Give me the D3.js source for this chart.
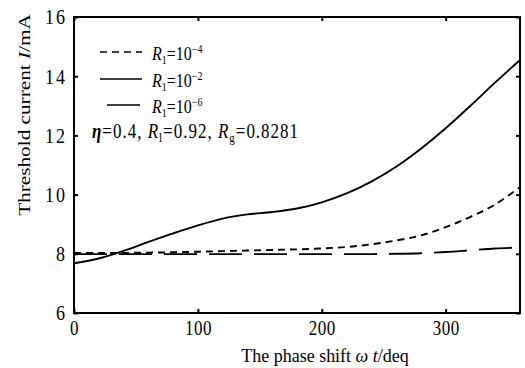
<!DOCTYPE html>
<html>
<head>
<meta charset="utf-8">
<script src="https://cdn.jsdelivr.net/npm/d3@7"></script>
<style>
  body { margin: 0; background: #fff; }
  text { font-family: "Liberation Serif", "Times New Roman", serif; fill: #000; }
</style>
</head>
<body>
<div id="chart"></div>
<script>
// phase shift (deg) and threshold current (mA)
const phase = [0, 20, 40, 60, 80, 100, 120, 140, 160, 180, 200, 220, 240, 260, 280, 300, 320, 340, 360];
const r1e2 = [7.68, 7.84, 8.10, 8.40, 8.69, 8.96, 9.19, 9.33, 9.41, 9.53, 9.74, 10.04, 10.44, 10.94, 11.55, 12.24, 13.00, 13.79, 14.55];
const r1e4 = [8.03, 8.03, 8.03, 8.04, 8.05, 8.07, 8.09, 8.11, 8.13, 8.15, 8.18, 8.23, 8.32, 8.45, 8.62, 8.90, 9.25, 9.67, 10.25];
const r1e6 = [7.99, 7.99, 7.99, 7.99, 7.99, 7.99, 7.99, 7.99, 7.99, 7.99, 7.99, 7.99, 7.99, 8.00, 8.02, 8.06, 8.12, 8.18, 8.21];
const xTicks = [0, 100, 200, 300];
const yTicks = [6, 8, 10, 12, 14, 16];
const legendExp = ["-4", "-2", "-6"];

const W = 525, H = 368;
const m = {left: 74, right: 520, top: 17, bottom: 313};
const sy = 1.2; // the scan is stretched vertically

const svg = d3.select("#chart").append("svg")
    .attr("width", W)
    .attr("height", H);

const x = d3.scaleLinear().domain([0, 360]).range([m.left, m.right]);
const y = d3.scaleLinear().domain([6, 16]).range([m.bottom, m.top]);

// axes with inward ticks
const gx = svg.append("g")
    .attr("transform", "translate(0," + m.bottom + ")")
    .call(d3.axisBottom(x).tickValues(xTicks).tickSizeInner(-4).tickSizeOuter(0).tickPadding(6));
const gy = svg.append("g")
    .attr("transform", "translate(" + m.left + ",0)")
    .call(d3.axisLeft(y).tickValues(yTicks).tickSizeInner(-4).tickSizeOuter(0).tickPadding(7));
svg.append("g")
    .attr("transform", "translate(0," + m.top + ")")
    .call(d3.axisTop(x).tickValues(xTicks).tickSizeInner(-4).tickSizeOuter(0).tickFormat(""));
svg.append("g")
    .attr("transform", "translate(" + m.right + ",0)")
    .call(d3.axisRight(y).tickValues(yTicks).tickSizeInner(-4).tickSizeOuter(0).tickFormat(""));

svg.selectAll(".domain").remove();
svg.selectAll(".tick line").attr("stroke", "#000").attr("stroke-width", 2);

gx.selectAll("text")
    .attr("font-size", 17)
    .attr("font-family", "Liberation Serif")
    .attr("letter-spacing", 0.5)
    .attr("transform", "scale(1," + sy + ")");
gy.selectAll("text")
    .attr("font-size", 18)
    .attr("font-family", "Liberation Serif")
    .attr("letter-spacing", 2)
    .attr("transform", "scale(1," + sy + ")");

// frame
svg.append("rect")
    .attr("x", m.left)
    .attr("y", m.top)
    .attr("width", m.right - m.left)
    .attr("height", m.bottom - m.top)
    .attr("fill", "none")
    .attr("stroke", "#000")
    .attr("stroke-width", 2);

// curves
const series = [
  { values: r1e4, dash: "7,5" },
  { values: r1e2, dash: null },
  { values: r1e6, dash: "33,12" }
];

const line = d3.line()
    .x(function(d) { return x(d[0]); })
    .y(function(d) { return y(d[1]); })
    .curve(d3.curveCatmullRom);

series.forEach(function(s) {
  svg.append("path")
      .datum(phase.map(function(p, i) { return [p, s.values[i]]; }))
      .attr("fill", "none")
      .attr("stroke", "#000")
      .attr("stroke-width", 1.9)
      .attr("stroke-dasharray", s.dash)
      .attr("d", line);
});

// legend
const legendY = [52, 79, 105];
const legendX = [[100, 142], [100, 142], [107, 140]];
series.forEach(function(s, i) {
  svg.append("line")
      .attr("x1", legendX[i][0])
      .attr("x2", legendX[i][1])
      .attr("y1", legendY[i])
      .attr("y2", legendY[i])
      .attr("stroke", "#000")
      .attr("stroke-width", 1.4)
      .attr("stroke-dasharray", s.dash);

  const t = svg.append("text")
      .attr("transform", "translate(152," + (legendY[i] + 8) + ") scale(1," + sy + ")")
      .attr("font-size", 16);
  t.append("tspan").attr("font-style", "italic").text("R");
  t.append("tspan").attr("font-size", 10).attr("dy", 3).text("1");
  t.append("tspan").attr("dy", -3).text("=10");
  t.append("tspan").attr("font-size", 10).attr("dy", -6).text(legendExp[i].replace("-", "\u2212"));
});

// parameter note
const note = svg.append("text")
    .attr("transform", "translate(92,138) scale(1," + sy + ")")
    .attr("font-size", 17)
    .attr("letter-spacing", 1);
note.append("tspan").attr("font-style", "italic").attr("font-weight", "bold").text("\u03b7");
note.append("tspan").text("=0.4, ");
note.append("tspan").attr("font-style", "italic").text("R");
note.append("tspan").attr("font-size", 11).attr("dy", 3).text("l");
note.append("tspan").attr("dy", -3).text("=0.92, ");
note.append("tspan").attr("font-style", "italic").text("R");
note.append("tspan").attr("font-size", 11).attr("dy", 3).text("g");
note.append("tspan").attr("dy", -3).text("=0.8281");

// axis titles
const xt = svg.append("text")
    .attr("transform", "translate(325,362) scale(1,1.1)")
    .attr("text-anchor", "middle")
    .attr("font-size", 18);
xt.append("tspan").text("The phase shift ");
xt.append("tspan").attr("font-style", "italic").text("\u03c9 t");
xt.append("tspan").text("/deq");

const yt = svg.append("text")
    .attr("transform", "translate(30,115) rotate(-90) scale(1.25,1)")
    .attr("text-anchor", "middle")
    .attr("font-size", 17);
yt.append("tspan").text("Threshold current ");
yt.append("tspan").attr("font-style", "italic").text("I");
yt.append("tspan").text("/mA");
</script>
</body>
</html>
